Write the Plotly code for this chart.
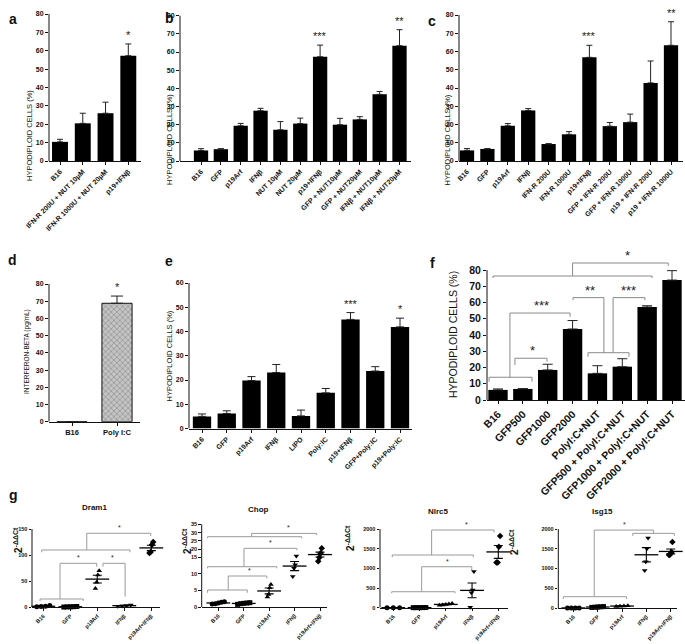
import numpy as np
import plotly.graph_objects as go

W, H = 685, 644
FONT = "Liberation Sans"

# ---------------- data ----------------
a_labels = ["B16", "IFN-R 200U + NUT 10μM", "IFN-R 1000U + NUT 20μM", "p19+IFNβ"]
a_values = [10.4, 20.5, 26.0, 57.3]
a_errors = [1.4, 5.5, 6.0, 6.4]
a_stars = ["", "", "", "*"]

b_labels = ["B16", "GFP", "p19Arf", "IFNβ", "NUT 10μM", "NUT 20μM", "p19+IFNβ",
            "GFP + NUT10μM", "GFP + NUT20μM", "IFNβ + NUT10μM", "IFNβ + NUT20μM"]
b_values = [5.8, 6.5, 19.4, 27.7, 17.2, 20.6, 57.4, 20.0, 22.9, 36.7, 63.5]
b_errors = [1.0, 0.3, 1.3, 1.3, 4.5, 3.0, 6.4, 3.5, 1.5, 1.6, 8.8]
b_stars = ["", "", "", "", "", "", "***", "", "", "", "**"]

c_labels = ["B16", "GFP", "p19Arf", "IFNβ", "IFN-R 200U", "IFN-R 1000U", "p19+IFNβ",
            "GFP + IFN-R 200U", "GFP + IFN-R 1000U", "p19 + IFN-R 200U", "p19 + IFN-R 1000U"]
c_values = [5.8, 6.6, 19.3, 27.7, 9.3, 14.6, 56.8, 19.1, 21.3, 42.8, 63.4]
c_errors = [1.0, 0.2, 1.2, 1.0, 0.2, 1.5, 6.6, 2.0, 4.4, 12.0, 12.9]
c_stars = ["", "", "", "", "", "", "***", "", "", "", "**"]

d_labels = ["B16", "Poly I:C"]
d_values = [0.0, 68.8]
d_errors = [0.0, 4.2]
d_stars = ["", "*"]

e_labels = ["B16", "GFP", "p19Arf", "IFNβ", "LIPO", "Poly:IC", "p19+IFNβ", "GFP+Poly:IC", "p19+Poly:IC"]
e_values = [5.0, 6.2, 19.8, 23.1, 5.2, 14.7, 45.0, 23.7, 41.9]
e_errors = [1.0, 1.1, 1.6, 3.3, 2.4, 1.8, 2.8, 1.8, 3.6]
e_stars = ["", "", "", "", "", "", "***", "", "*"]

f_labels = ["B16", "GFP500", "GFP1000", "GFP2000", "PolyI:C+NUT", "GFP500 + PolyI:C+NUT",
            "GFP1000 + PolyI:C+NUT", "GFP2000 + PolyI:C+NUT"]
f_values = [6.2, 6.8, 18.5, 43.7, 16.4, 20.5, 57.2, 73.8]
f_errors = [0.6, 0.2, 3.5, 5.2, 4.7, 4.9, 0.8, 5.8]
# significance brackets: polylines in (category index, value) + star label position
f_brackets = [
    {"path": [(-0.2, 75.1), (-0.2, 76.3), (6.2, 76.3), (6.2, 75.1)]},
    {"path": [(3.0, 76.3), (3.0, 84.3), (6.85, 84.3), (6.85, 82.6)], "star": "*", "at": (5.2, 84.3)},
    {"path": [(-0.36, 11.3), (-0.36, 14.0), (1.37, 14.0), (1.37, 11.3)]},
    {"path": [(0.48, 14.0), (0.48, 53.5), (2.9, 53.5), (2.9, 51.3)], "star": "***", "at": (1.73, 53.5)},
    {"path": [(0.68, 21.5), (0.68, 25.7), (1.97, 25.7), (1.97, 23.6)], "star": "*", "at": (1.37, 25.7)},
    {"path": [(3.62, 26.6), (3.62, 29.1), (5.27, 29.1), (5.27, 26.6)]},
    {"path": [(4.26, 29.1), (4.26, 63.0), (3.02, 63.0), (3.02, 61.5)], "star": "**", "at": (3.7, 63.0)},
    {"path": [(4.63, 29.1), (4.63, 63.0), (5.91, 63.0), (5.91, 61.5)], "star": "***", "at": (5.23, 63.0)},
]

g_groups = ["B16", "GFP", "p19Arf", "IFNβ", "p19Arf+IFNβ"]
g_symbols = ["circle", "square", "triangle-up", "triangle-down", "diamond"]

dram1_points = [[1.0, 2.0, 3.5, 1.5], [0.8, 1.2, 1.0, 0.5, 1.5], [70, 62, 48, 36],
                [2.5, 3.5, 4.5, 2.0], [125, 120, 106, 104]]
dram1_brackets = [
    {"path": [(-0.12, 12.0), (-0.12, 15.9), (1.48, 15.9), (1.48, 12.0)]},
    {"path": [(0.62, 15.9), (0.62, 84.3), (1.98, 84.3), (1.98, 77.8)], "star": "*", "at": (1.32, 84.3)},
    {"path": [(2.21, 77.8), (2.21, 84.3), (3.03, 84.3), (3.03, 20.3)], "star": "*", "at": (2.58, 84.3)},
    {"path": [(-0.06, 105.4), (-0.06, 109.8), (3.21, 109.8), (3.21, 105.4)]},
    {"path": [(1.61, 109.8), (1.61, 141.8), (3.98, 141.8), (3.98, 136.6)], "star": "*", "at": (2.84, 141.8)},
]

chop_points = [[1.2, 1.6, 0.9, 1.4, 1.0], [1.0, 1.3, 0.8, 1.2, 1.1], [6.8, 5.8, 3.8, 3.0],
               [15.8, 12.8, 11.7, 9.2], [20.5, 17.5, 15.0, 13.8]]
chop_brackets = [
    {"path": [(-0.42, 4.3), (-0.42, 5.14), (1.14, 5.14), (1.14, 4.3)]},
    {"path": [(0.39, 5.14), (0.39, 9.37), (1.91, 9.37), (1.91, 8.67)], "star": "*", "at": (1.21, 9.37)},
    {"path": [(-0.42, 11.7), (-0.42, 12.18), (2.3, 12.18), (2.3, 11.7)]},
    {"path": [(1.01, 12.18), (1.01, 20.47), (3.09, 20.47), (3.09, 19.4)], "star": "*", "at": (2.04, 20.47)},
    {"path": [(-0.42, 26.5), (-0.42, 27.5), (3.28, 27.5), (3.28, 26.5)]},
    {"path": [(1.31, 27.5), (1.31, 29.5), (3.87, 29.5), (3.87, 28.5)], "star": "*", "at": (2.76, 29.5)},
]
chop_ticks = [0, 5, 10, 15, 20, 25, 30, 35]

nlrc5_points = [[0, 0, 0], [2, 3, 1, 2, 4], [80, 95, 65, 105, 70],
                [920, 450, 380, 10], [1820, 1550, 1150, 1150]]
nlrc5_brackets = [
    {"path": [(-0.06, 366), (-0.06, 406), (2.35, 406), (2.35, 366)]},
    {"path": [(1.08, 406), (1.08, 1041), (2.99, 1041), (2.99, 958)], "star": "*", "at": (2.07, 1041)},
    {"path": [(-0.04, 1280), (-0.04, 1339), (3.05, 1339), (3.05, 1280)]},
    {"path": [(1.46, 1339), (1.46, 1974), (3.84, 1974), (3.84, 1915)], "star": "*", "at": (2.77, 1974)},
]

isg15_points = [[2, 1, 3, 0], [20, 30, 25, 15, 35], [40, 60, 50, 45],
                [1770, 1500, 1170, 950], [1670, 1420, 1380, 1350, 1340]]
isg15_brackets = [
    {"path": [(-0.41, 228), (-0.41, 286), (2.19, 286), (2.19, 228)]},
    {"path": [(0.86, 286), (0.86, 1973), (3.29, 1973), (3.29, 1890)], "star": "*", "at": (2.12, 1973)},
    {"path": [(2.44, 1829), (2.44, 1890), (4.15, 1890), (4.15, 1829)]},
]

# ---------------- helpers ----------------
fig = go.Figure()
layout = dict(width=W, height=H, margin=dict(l=0, r=0, t=0, b=0),
              paper_bgcolor="white", plot_bgcolor="white", showlegend=False,
              font=dict(family=FONT, color="#111"))
annotations = []
shapes = []


def fx(p):
    return p / W


def fy(p):
    return 1 - p / H


def chop_t(v):
    v = np.asarray(v, dtype=float)
    return np.where(v <= 15, v, 15 + (v - 15) * 0.5)


def setup_axes(i, xdom, c0, cn, n, py0, pyt, ytop, pdt, yticks, yticktext,
               xlabels, xangle=-45, xfont=7, yfont=7, tlen=3):
    s = (cn - c0) / (n - 1)
    xr = [-(c0 - xdom[0]) / s, (n - 1) + (xdom[1] - cn) / s]
    yr = [0, ytop * (py0 - pdt) / (py0 - pyt)]
    sx = "" if i == 1 else str(i)
    layout["xaxis" + sx] = dict(
        domain=[fx(xdom[0]), fx(xdom[1])], range=xr, anchor="y" + sx,
        showline=True, linecolor="#111", linewidth=1, ticks="outside", ticklen=tlen,
        tickcolor="#111", tickvals=list(range(n)), ticktext=xlabels, tickangle=xangle,
        tickfont=dict(family=FONT, size=xfont, color="#111", weight="bold"),
        showgrid=False, zeroline=False, automargin=False, fixedrange=True)
    layout["yaxis" + sx] = dict(
        domain=[fy(py0), fy(pdt)], range=yr, anchor="x" + sx,
        showline=False, ticks="outside", ticklen=tlen, tickcolor="#111",
        tickvals=list(yticks), ticktext=yticktext,
        tickfont=dict(family=FONT, size=yfont, color="#111", weight="bold"),
        showgrid=False, zeroline=False, automargin=False, fixedrange=True)
    shapes.append(dict(type="line", xref="x" + sx + " domain", yref="y" + sx,
                       x0=0, x1=0, y0=0, y1=ytop, line=dict(color="#111", width=1)))
    return "x" + sx, "y" + sx


def bar_panel(i, labels, values, errors, stars, xdom, c0, cn, py0, pyt, pdt, bw,
              ytop=80, ystep=10, xangle=-45, xfont=7, yfont=7, starsize=11, cap=3,
              marker=None):
    n = len(labels)
    ticks = list(range(0, ytop + 1, ystep))
    xa, ya = setup_axes(i, xdom, c0, cn, n, py0, pyt, ytop, pdt, ticks,
                        [str(t) for t in ticks], labels, xangle, xfont, yfont)
    fig.add_trace(go.Bar(
        x=list(range(n)), y=values, width=bw, xaxis=xa, yaxis=ya,
        marker=marker or dict(color="black", line=dict(width=0)),
        error_y=dict(type="data", symmetric=False, array=errors,
                     arrayminus=[0] * n, color="#222", thickness=1, width=cap)))
    for k, s in enumerate(stars):
        if s:
            annotations.append(dict(x=k, y=values[k] + errors[k], xref=xa, yref=ya,
                                    text=s, showarrow=False, yanchor="bottom", yshift=1,
                                    font=dict(family=FONT, size=starsize, color="#222")))


def draw_brackets(xa, ya, brackets, color, starsize, tf=None, shift=0):
    for br in brackets:
        pts = br["path"]
        ys = [p[1] for p in pts]
        if tf is not None:
            ys = list(tf(ys))
        path = "M " + " L ".join(f"{p[0]},{y}" for p, y in zip(pts, ys))
        shapes.append(dict(type="path", path=path, xref=xa, yref=ya,
                           line=dict(color=color, width=1)))
        if "star" in br:
            sy = br["at"][1]
            if tf is not None:
                sy = float(tf([sy])[0])
            annotations.append(dict(x=br["at"][0], y=sy, xref=xa, yref=ya, text=br["star"],
                                    showarrow=False, yanchor="bottom", yshift=shift,
                                    font=dict(family=FONT, size=starsize, color="#222")))


def scatter_panel(i, title, pts, brackets, xdom, c0, cn, py0, pyt, pdt, ytop, yticks,
                  title_pos, ytitle_pos, tf=None, yticktext=None):
    n = len(g_groups)
    tvals = yticks if tf is None else list(tf(yticks))
    xa, ya = setup_axes(i, xdom, c0, cn, n, py0, pyt, ytop if tf is None else float(tf([ytop])[0]),
                        pdt, tvals, yticktext or [str(t) for t in yticks], g_groups,
                        -45, 5.5, 5.5, 2.5)
    # points, spread horizontally when they overlap
    for k, vals in enumerate(pts):
        vals = np.asarray(vals, dtype=float)
        spread = 0.24 if (vals.max() - vals.min()) < 0.06 * ytop else 0.07
        offs = np.linspace(-spread, spread, len(vals))
        order = np.argsort(vals)
        xs = np.empty(len(vals))
        xs[order] = k + offs
        yv = vals if tf is None else tf(vals)
        fig.add_trace(go.Scatter(x=xs, y=yv, mode="markers", xaxis=xa, yaxis=ya,
                                 cliponaxis=False,
                                 marker=dict(symbol=g_symbols[k], size=5, color="black")))
        m = vals.mean()
        sem = vals.std(ddof=1) / np.sqrt(len(vals))
        if tf is None:
            ym, up, dn = m, sem, sem
        else:
            ym = float(tf([m])[0])
            up = float(tf([m + sem])[0]) - ym
            dn = ym - float(tf([m - sem])[0])
        fig.add_trace(go.Scatter(
            x=[k], y=[ym], mode="markers", xaxis=xa, yaxis=ya, cliponaxis=False,
            marker=dict(symbol="line-ew", size=17, line=dict(color="black", width=1.3)),
            error_y=dict(type="data", symmetric=False, array=[up], arrayminus=[dn],
                         color="black", thickness=1.1, width=4.5)))
    draw_brackets(xa, ya, brackets, "#9a9a9a", 7, tf, 0)
    annotations.append(dict(x=fx(title_pos[0]), y=fy(title_pos[1]), xref="paper", yref="paper",
                            text=title, showarrow=False,
                            font=dict(family=FONT, size=8, color="#111", weight="bold")))
    annotations.append(dict(x=fx(ytitle_pos[0]), y=fy(ytitle_pos[1]), xref="paper", yref="paper",
                            text="2<sup>-ΔΔCt</sup>", showarrow=False, textangle=-90,
                            font=dict(family=FONT, size=10, color="#111", weight="bold")))


# ---------------- panels ----------------
bar_panel(1, a_labels, a_values, a_errors, a_stars, (49, 141), 60, 128.3, 161, 14, 6, 0.70)
bar_panel(2, b_labels, b_values, b_errors, b_stars, (180, 411), 201, 399.5, 161, 15.7, 6, 0.72)
bar_panel(3, c_labels, c_values, c_errors, c_stars, (459, 683), 467, 671, 161, 15, 3, 0.70)
bar_panel(4, d_labels, d_values, d_errors, d_stars, (49, 140), 72, 117, 421.7, 284, 278, 0.67,
          xangle=0, xfont=7.5, cap=6,
          marker=dict(color="#c4c4c4", line=dict(color="#111", width=1),
                      pattern=dict(shape="x", fgcolor="#666666", size=4, solidity=0.35)))
bar_panel(5, e_labels, e_values, e_errors, e_stars, (189, 412), 202, 400, 428.5, 283, 278, 0.74,
          ytop=60, cap=4)
bar_panel(6, f_labels, f_values, f_errors, [""] * 8, (487, 685), 498, 672, 400, 270, 250, 0.78,
          xfont=10.5, yfont=10.5, cap=5)
draw_brackets("x6", "y6", f_brackets, "#8a8a8a", 13, None, -2)

scatter_panel(7, "Dram1", dram1_points, dram1_brackets, (32, 160), 43.3, 151.3, 607.3, 529, 520,
              150, [0, 50, 100, 150], (80, 514), (10, 555))
scatter_panel(8, "Chop", chop_points, chop_brackets, (201.7, 326.7), 218.3, 320, 607, 524.3, 520,
              35, chop_ticks, (258, 516), (179, 556), tf=chop_t)
scatter_panel(9, "Nlrc5", nlrc5_points, nlrc5_brackets, (380, 508), 393.3, 498.3, 607.7, 529, 520,
              2000, [0, 500, 1000, 1500, 2000], (438, 518), (350, 553))
scatter_panel(10, "Isg15", isg15_points, isg15_brackets, (558.3, 677), 573.3, 670.7, 608, 529, 518,
              2000, [0, 500, 1000, 1500, 2000], (615, 518), (522, 557))

# axis titles for bar panels
ytitles = [("HYPODIPLOID CELLS (%)", 23, 88, 7.5), ("HYPODIPLOID CELLS (%)", 163, 92, 7.5),
           ("HYPODIPLOID CELLS (%)", 447, 92, 7.5), ("INTERFERON-BETA (pg/mL)", 21, 352, 6.5),
           ("HYPODIPLOID CELLS (%)", 162, 356, 7.5), ("HYPODIPLOID CELLS (%)", 453, 335, 10.5)]
for txt, x, y, s in ytitles:
    annotations.append(dict(x=fx(x), y=fy(y), xref="paper", yref="paper", text=txt,
                            showarrow=False, textangle=-90,
                            font=dict(family=FONT, size=s, color="#111")))

# panel letters
for letter, x, y in [("a", 7, 9), ("b", 163, 8), ("c", 432, 11), ("d", 6, 260),
                     ("e", 163, 261), ("f", 432, 263), ("g", 7, 505)]:
    annotations.append(dict(x=fx(x), y=fy(y), xref="paper", yref="paper", text=letter,
                            showarrow=False,
                            font=dict(family=FONT, size=14, color="#111", weight="bold")))

layout["annotations"] = annotations
layout["shapes"] = shapes
fig.update_layout(**layout)
fig.write_html("out.html", config={"displayModeBar": False},
               post_script="document.body.style.margin='0px';document.body.style.overflow='hidden';")
